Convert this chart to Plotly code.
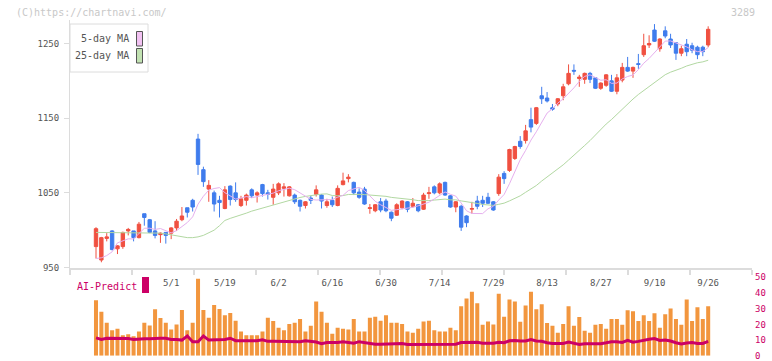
import plotly.graph_objects as go

# ---------------- data ----------------
date_tick_idx = [14, 24, 34, 44, 54, 64, 74, 84, 94, 104, 114]
date_tick_text = ["5/1", "5/19", "6/2", "6/16", "6/30", "7/14", "7/29", "8/13", "8/27", "9/10", "9/26"]
price_ticks = [950, 1050, 1150, 1250]
ai_ticks = [0, 10, 20, 30, 40, 50]

open_ = [978, 960, 989, 999, 975, 978, 999, 999, 990, 1022, 1014, 999, 994, 997, 996, 1003, 1014, 1030, 1040, 1122,
         1081, 1055, 1050, 1040, 1029, 1059, 1050, 1033, 1040, 1054, 1047, 1061, 1050, 1044, 1050, 1056, 1046, 1047, 1040, 1033,
         1043, 1048, 1047, 1033, 1040, 1033, 1061, 1069, 1064, 1051, 1055, 1029, 1026, 1038, 1039, 1024, 1020, 1030, 1038, 1032,
         1034, 1028, 1049, 1058, 1050, 1064, 1046, 1031, 1032, 1019, 1028, 1039, 1040, 1044, 1038, 1049, 1076, 1080, 1096, 1119,
         1120, 1148, 1143, 1180, 1177, 1164, 1169, 1180, 1196, 1214, 1203, 1202, 1210, 1204, 1190, 1194, 1200, 1186, 1201, 1218,
         1213, 1223, 1235, 1248, 1268, 1243, 1267, 1256, 1251, 1237, 1249, 1247, 1245, 1245, 1248]
high = [1004, 991, 996, 1000, 980, 998, 1003, 999, 1011, 1022, 1015, 1012, 997, 997, 1004, 1015, 1031, 1030, 1042, 1129,
        1085, 1067, 1053, 1046, 1059, 1060, 1064, 1046, 1049, 1056, 1052, 1062, 1054, 1062, 1064, 1063, 1059, 1049, 1041, 1039,
        1046, 1060, 1048, 1042, 1045, 1060, 1077, 1075, 1065, 1056, 1058, 1035, 1035, 1043, 1042, 1025, 1036, 1040, 1039, 1043,
        1035, 1050, 1058, 1060, 1064, 1065, 1047, 1039, 1034, 1020, 1038, 1046, 1046, 1050, 1039, 1075, 1079, 1109, 1113, 1126,
        1141, 1164, 1165, 1192, 1185, 1169, 1177, 1196, 1222, 1222, 1208, 1211, 1212, 1205, 1198, 1209, 1208, 1209, 1224, 1232,
        1219, 1236, 1263, 1261, 1276, 1257, 1273, 1263, 1252, 1247, 1256, 1251, 1247, 1247, 1273]
low = [962, 957, 985, 973, 968, 975, 993, 985, 989, 1006, 996, 989, 983, 982, 988, 999, 1012, 1017, 1025, 1074,
       1058, 1038, 1025, 1017, 1028, 1033, 1038, 1031, 1033, 1043, 1037, 1045, 1041, 1034, 1047, 1045, 1045, 1035, 1025, 1029,
       1035, 1045, 1029, 1030, 1031, 1032, 1060, 1064, 1047, 1042, 1034, 1022, 1024, 1024, 1024, 1012, 1019, 1028, 1024, 1030,
       1024, 1027, 1042, 1048, 1048, 1046, 1030, 1024, 999, 1004, 1022, 1028, 1031, 1035, 1026, 1046, 1062, 1078, 1094, 1109,
       1116, 1131, 1141, 1169, 1171, 1160, 1166, 1174, 1194, 1208, 1192, 1196, 1197, 1189, 1188, 1192, 1185, 1182, 1198, 1212,
       1204, 1216, 1232, 1244, 1252, 1239, 1257, 1244, 1228, 1233, 1233, 1237, 1229, 1233, 1245]
close = [1002, 990, 991, 974, 979, 997, 1001, 990, 1008, 1017, 997, 993, 996, 993, 1003, 1012, 1019, 1024, 1031, 1088,
         1065, 1060, 1035, 1037, 1054, 1041, 1041, 1042, 1047, 1046, 1050, 1049, 1048, 1055, 1062, 1058, 1058, 1038, 1032, 1038,
         1040, 1054, 1039, 1038, 1034, 1056, 1066, 1071, 1050, 1044, 1035, 1030, 1034, 1027, 1026, 1016, 1034, 1039, 1028, 1036,
         1026, 1047, 1050, 1050, 1062, 1047, 1031, 1038, 1004, 1010, 1029, 1032, 1036, 1036, 1027, 1071, 1069, 1108, 1112, 1112,
         1133, 1138, 1164, 1176, 1173, 1162, 1176, 1192, 1210, 1213, 1205, 1210, 1202, 1190, 1197, 1208, 1186, 1204, 1218, 1213,
         1218, 1222, 1247, 1250, 1253, 1256, 1260, 1248, 1237, 1243, 1239, 1241, 1235, 1239, 1269]
ma5 = [962, 963, 966, 971, 983, 986.2, 988.4, 988.2, 995, 1002.6, 1002.6, 1001, 1002.2, 999.2, 996.4, 999.4, 1004.6, 1010.2, 1017.8, 1034.8,
       1045.4, 1053.6, 1055.8, 1057, 1050.2, 1045.4, 1041.6, 1043, 1045, 1043.4, 1045.2, 1046.8, 1048, 1049.6, 1052.8, 1054.4, 1056.2, 1054.2, 1049.6, 1044.8,
       1041.2, 1040.4, 1040.6, 1041.8, 1041, 1044.2, 1046.6, 1053, 1055.4, 1057.4, 1053.2, 1046, 1038.6, 1034, 1030.4, 1026.6, 1027.4, 1028.4, 1028.6, 1030.6,
       1032.6, 1035.2, 1037.4, 1041.8, 1047, 1051.2, 1048, 1045.6, 1036.4, 1026, 1022.4, 1022.6, 1022.2, 1028.6, 1032, 1040.4, 1047.8, 1062.2, 1077.4, 1094.4,
       1106.8, 1120.6, 1131.8, 1144.6, 1156.8, 1162.6, 1170.2, 1175.8, 1182.6, 1190.6, 1199.2, 1206, 1208, 1204, 1200.8, 1201.4, 1196.6, 1197, 1202.6, 1205.8,
       1207.8, 1215, 1223.6, 1230, 1238, 1245.6, 1253.2, 1253.4, 1250.8, 1248.8, 1245.4, 1241.6, 1239, 1239.4, 1244.6]
ma25 = [997, 997, 997, 997, 997, 997, 997, 997, 997, 997, 997, 997, 996, 995, 994, 992, 991, 990, 990, 991,
        993, 996, 1000, 1006, 1013, 1015.8, 1017.8, 1019.9, 1022.8, 1025.5, 1027.6, 1029.5, 1031.8, 1033.7, 1035.5, 1038, 1040.6, 1042.2, 1043.8, 1045.2,
        1046.3, 1047.7, 1048.3, 1048.6, 1046.4, 1046.1, 1046.3, 1047.8, 1048.3, 1047.9, 1047.6, 1047.2, 1046.9, 1046.1, 1045.3, 1043.9, 1043.3, 1043, 1041.9, 1040.8,
        1039.6, 1039.1, 1039.6, 1040.3, 1041.3, 1041.6, 1040.6, 1040.6, 1039.2, 1038.3, 1037.2, 1035.8, 1034.4, 1033.9, 1033.2, 1034.6, 1036.2, 1039.2, 1042.6, 1046,
        1050.7, 1054.8, 1059.8, 1065.8, 1071.2, 1076.7, 1081.8, 1087.5, 1093.9, 1100, 1106.3, 1113.4, 1120, 1127.4, 1134.9, 1142.1, 1148.2, 1155, 1162.2, 1169.7,
        1175.6, 1181.7, 1187.2, 1192.8, 1198.4, 1203.3, 1208.2, 1211.6, 1214, 1216.8, 1219.9, 1222.5, 1224.2, 1225.4, 1227.6]
volume = [35.4, 28, 21.1, 16.2, 17.2, 13.1, 13.7, 12.4, 15.5, 21.1, 19.3, 29.6, 24, 21.1, 16.8, 19.9, 29.2, 16.2, 21.1, 49.1,
          29.2, 24.2, 32.3, 29.8, 25.9, 27.3, 22.4, 15.5, 13.1, 13.1, 13.1, 15.5, 24.2, 22.2, 17.8, 16.2, 20.3, 21.1, 23.4, 15.5,
          19.1, 34.6, 28, 21.1, 14.1, 17.8, 17.2, 16.8, 23.4, 15.5, 15.5, 24.2, 24.8, 22.4, 25.9, 21.1, 21.1, 20.3, 15.5, 14.7,
          17.2, 21.8, 22.4, 16.2, 15.5, 15.5, 17.8, 16.2, 31.5, 36.5, 40.8, 33.5, 19.7, 21.8, 19.9, 39.6, 24.8, 35.8, 34.6, 21.7,
          32.1, 40.8, 29.6, 32.9, 20.9, 19.1, 14.7, 20.3, 31.5, 19.1, 24.7, 16, 14.7, 19.7, 20.3, 17.2, 23.4, 23.4, 19.7, 29,
          28.4, 22.2, 25.9, 22.2, 27.1, 17.8, 26.5, 30.2, 23.4, 19.7, 35.8, 22.2, 30.9, 23.4, 31.5]
ai_predict = [11.4, 10.4, 11.2, 11.2, 11.0, 11.2, 11.0, 10.4, 10.8, 10.8, 10.8, 11.2, 11.2, 11.2, 10.4, 10.4, 10.0, 12.6, 9.0, 9.0,
              12.6, 10.0, 10.0, 10.2, 10.4, 11.2, 9.6, 9.6, 9.6, 9.6, 9.6, 10.2, 9.2, 9.2, 9.2, 9.2, 9.2, 9.0, 9.0, 9.6,
              9.2, 8.8, 7.7, 8.5, 8.5, 8.5, 9.0, 8.5, 8.0, 9.0, 8.5, 8.0, 7.4, 7.4, 7.4, 7.4, 7.4, 7.8, 7.2, 7.2,
              7.2, 7.2, 7.2, 7.2, 7.0, 7.0, 7.2, 7.4, 8.4, 8.6, 8.6, 8.6, 8.0, 8.0, 8.0, 8.6, 8.3, 9.6, 9.8, 9.4,
              9.4, 10.4, 9.4, 9.2, 8.3, 7.9, 7.9, 7.9, 8.7, 7.7, 7.2, 7.7, 7.7, 7.7, 7.7, 8.3, 9.0, 9.0, 8.5, 9.8,
              8.7, 9.2, 10.0, 10.6, 11.0, 9.8, 10.0, 9.4, 8.3, 7.5, 8.1, 8.5, 7.9, 7.9, 9.2]

idx = list(range(len(close)))

# ---------------- style ----------------
W, H = 772, 361
RED = "#f05040"
BLUE = "#3f7ced"
PINK = "#e6b0ee"
GREEN = "#b2d8a2"
ORANGE = "#f2963e"
MAGENTA = "#cc0066"
AXIS = "#dcdcdc"
TXT = "#555555"
FONT = "DejaVu Sans Mono"


def px(x):
    return x / W


def py(y):
    return 1 - y / H


X_LEFT, X_RIGHT = 70, 752
X0_PIX, STEP = 96, 5.37
xr = [(X_LEFT - X0_PIX) / STEP, (X_RIGHT - X0_PIX) / STEP]
minor_vals = [xr[0] + k * (62 / STEP) for k in range(12)]

fig = go.Figure()

fig.add_trace(go.Scatter(x=idx, y=ma25, mode="lines", line=dict(color=GREEN, width=1),
                         showlegend=False, hoverinfo="skip", xaxis="x", yaxis="y"))
fig.add_trace(go.Scatter(x=idx, y=ma5, mode="lines", line=dict(color=PINK, width=1),
                         showlegend=False, hoverinfo="skip", xaxis="x", yaxis="y"))
fig.add_trace(go.Candlestick(
    x=idx, open=open_, high=high, low=low, close=close,
    increasing=dict(line=dict(color=RED, width=1), fillcolor=RED),
    decreasing=dict(line=dict(color=BLUE, width=1), fillcolor=BLUE),
    whiskerwidth=0, showlegend=False, xaxis="x", yaxis="y"))

fig.add_trace(go.Bar(x=idx, y=volume, marker=dict(color=ORANGE, line=dict(width=0)),
                     showlegend=False, xaxis="x2", yaxis="y2"))
fig.add_trace(go.Scatter(x=idx, y=ai_predict, mode="lines", line=dict(color=MAGENTA, width=3),
                         showlegend=False, xaxis="x2", yaxis="y2"))

fig.update_layout(
    width=W, height=H,
    margin=dict(l=0, r=0, t=0, b=0, autoexpand=False),
    paper_bgcolor="white", plot_bgcolor="white",
    boxgap=0.1, bargap=0.25,
    font=dict(family=FONT, size=9, color=TXT),
    xaxis=dict(domain=[px(X_LEFT), px(X_RIGHT)], range=xr, anchor="y", automargin=False,
               rangeslider=dict(visible=False),
               showgrid=False, zeroline=False,
               showline=True, linecolor=AXIS, linewidth=1.5,
               tickmode="array", tickvals=date_tick_idx, ticktext=date_tick_text,
               ticks="", ticklabelstandoff=5,
               tickfont=dict(family=FONT, size=9, color=TXT),
               minor=dict(tickmode="array", tickvals=minor_vals, ticks="outside",
                          ticklen=5, tickcolor=AXIS, tickwidth=1.5, showgrid=False)),
    yaxis=dict(domain=[py(268), py(20)], range=[950 - 0.5 / 0.7467, 950 + 247.5 / 0.7467],
               anchor="x", automargin=False, showgrid=False, zeroline=False,
               showline=True, linecolor=AXIS, linewidth=1,
               tickmode="array", tickvals=price_ticks,
               ticks="outside", ticklen=5, tickcolor=AXIS, ticklabelstandoff=3,
               tickfont=dict(family=FONT, size=9, color=TXT)),
    xaxis2=dict(domain=[px(X_LEFT), px(X_RIGHT)], range=xr, anchor="y2", automargin=False,
                visible=False, showgrid=False),
    yaxis2=dict(domain=[py(355.8), py(277.3)], range=[0, 50], anchor="x2", side="right",
                automargin=False, showgrid=False, zeroline=False, showline=False,
                tickmode="array", tickvals=ai_ticks, ticks="",
                ticklabelstandoff=2, ticklabeloverflow="allow",
                tickfont=dict(family=FONT, size=9, color=MAGENTA)),
)

shapes = [
    dict(type="rect", xref="paper", yref="paper", x0=px(70), x1=px(148), y0=py(72), y1=py(24),
         line=dict(color=AXIS, width=1), fillcolor="white", layer="above"),
    dict(type="rect", xref="paper", yref="paper", x0=px(136.5), x1=px(142.5), y0=py(46), y1=py(31.5),
         line=dict(color="#555555", width=1), fillcolor="#f2c2f2", layer="above"),
    dict(type="rect", xref="paper", yref="paper", x0=px(136.5), x1=px(142.5), y0=py(63), y1=py(48.5),
         line=dict(color="#555555", width=1), fillcolor="#c2e2b2", layer="above"),
    dict(type="rect", xref="paper", yref="paper", x0=px(142), x1=px(149), y0=py(293), y1=py(277),
         line=dict(width=0), fillcolor=MAGENTA, layer="above"),
]

annotations = [
    dict(text="(C)https://chartnavi.com/", xref="paper", yref="paper", x=px(14), y=py(12),
         xanchor="left", yanchor="middle", showarrow=False,
         font=dict(family=FONT, size=10, color="#c8c8c8")),
    dict(text="3289", xref="paper", yref="paper", x=px(757), y=py(12),
         xanchor="right", yanchor="middle", showarrow=False,
         font=dict(family=FONT, size=10, color="#c8c8c8")),
    dict(text="5-day MA", xref="paper", yref="paper", x=px(131), y=py(39),
         xanchor="right", yanchor="middle", showarrow=False,
         font=dict(family=FONT, size=10, color=TXT)),
    dict(text="25-day MA", xref="paper", yref="paper", x=px(131), y=py(56),
         xanchor="right", yanchor="middle", showarrow=False,
         font=dict(family=FONT, size=10, color=TXT)),
    dict(text="AI-Predict", xref="paper", yref="paper", x=px(75), y=py(286),
         xanchor="left", yanchor="middle", showarrow=False,
         font=dict(family=FONT, size=10, color=MAGENTA)),
]

fig.update_layout(shapes=shapes, annotations=annotations)

fig.write_html(
    "out.html",
    config={"displayModeBar": False},
    post_script="document.body.style.margin='0';document.body.style.overflow='hidden';",
)
